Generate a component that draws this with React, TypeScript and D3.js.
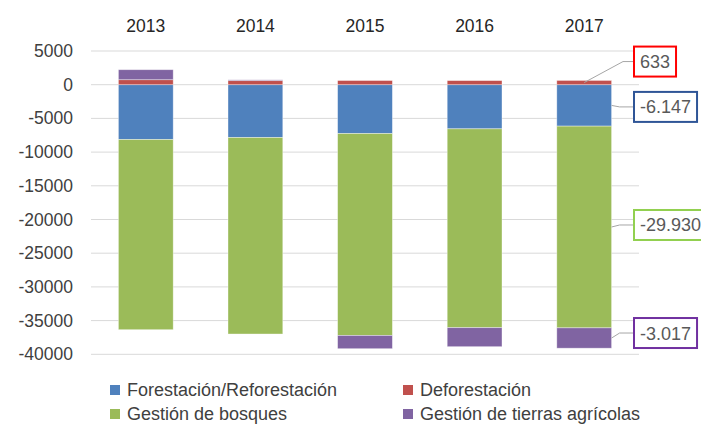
import React from 'react';
import * as d3 from 'd3';

const years = ['2013', '2014', '2015', '2016', '2017'];
const seriesNames = ['Forestación/Reforestación', 'Deforestación', 'Gestión de bosques', 'Gestión de tierras agrícolas'];
const forestacion = [-8140, -7840, -7250, -6550, -6147];
const deforestacion = [740, 600, 620, 610, 633];
const bosques = [-28210, -29150, -29950, -29500, -29930];
const tierras = [1485, 120, -1970, -2820, -3017];
const yTicks = [5000, 0, -5000, -10000, -15000, -20000, -25000, -30000, -35000, -40000];

const colors = ['#4F81BD', '#C0504D', '#9BBB59', '#8064A2'];
const calloutBorders = ['#2F5597', '#FF0000', '#92D050', '#7030A0'];
// vertical shift of each callout box relative to its segment middle
const calloutShift = [1.5, -21, -2, -5];

const width = 701;
const height = 425;
const font = 'Liberation Sans, Arial, sans-serif';

const esLocale = d3.formatLocale({ decimal: ',', thousands: '.', grouping: [3], currency: ['', '€'], minus: '-' });
const fmt = esLocale.format(',d');

function textWidth(s: string, size: number) {
	const ctx = document.createElement('canvas').getContext('2d');
	if (!ctx) return s.length * size * 0.55;
	ctx.font = `${size}px ${font}`;
	return ctx.measureText(s).width;
}

export default function App() {
	const rows = years.map((y, i) => ({
		year: y,
		s0: forestacion[i],
		s1: deforestacion[i],
		s2: bosques[i],
		s3: tierras[i],
	}));
	const keys = ['s0', 's1', 's2', 's3'];
	const stacked = d3.stack<any>().keys(keys).offset(d3.stackOffsetDiverging)(rows);

	const x = d3.scaleBand().domain(years).range([91, 639]).paddingInner(0.5).paddingOuter(0.25);
	const y = d3.scaleLinear().domain([-40000, 5000]).range([354.3, 51]);

	const last = years.length - 1;
	const barRight = (x(years[last]) ?? 0) + x.bandwidth();
	const boxX = 634;
	const labelSize = 18;

	const legendItems = [
		{ i: 0, lx: 110, ly: 390 },
		{ i: 1, lx: 403, ly: 390 },
		{ i: 2, lx: 110, ly: 414 },
		{ i: 3, lx: 403, ly: 414 },
	];

	return (
		<svg width={width} height={height} style={{ position: 'absolute', left: 0, top: 0, background: '#fff' }} fontFamily={font}>
			<g>
				{yTicks.map(t => (
					<line key={t} x1={91} x2={639} y1={y(t)} y2={y(t)} stroke="#D9D9D9" strokeWidth={1} />
				))}
				{yTicks.map(t => (
					<text key={'l' + t} x={73} y={y(t) + 6} textAnchor="end" fontSize={17.5} fill="#404040">{t}</text>
				))}
				{years.map(yr => (
					<text key={yr} x={(x(yr) ?? 0) + x.bandwidth() / 2} y={32} textAnchor="middle" fontSize={17.5} fill="#262626">{yr}</text>
				))}
			</g>
			<g>
				{stacked.map((layer, si) => (
					<g key={layer.key} fill={colors[si]} stroke="#fff" strokeOpacity={0.5} strokeWidth={0.75}>
						{layer.map((d, i) => (
							<rect
								key={i}
								x={x(years[i])}
								width={x.bandwidth()}
								y={y(Math.max(d[0], d[1]))}
								height={Math.abs(y(d[0]) - y(d[1]))}
							/>
						))}
					</g>
				))}
			</g>
			<g>
				{stacked.map((layer, si) => {
					const d = layer[last];
					const mid = y((d[0] + d[1]) / 2);
					const value = [forestacion, deforestacion, bosques, tierras][si][last];
					const label = fmt(value);
					const w = textWidth(label, labelSize) + 12;
					const cy = mid + calloutShift[si];
					const h = 30;
					const startX = si === 1 ? (x(years[last]) ?? 0) + x.bandwidth() / 2 : barRight;
					const elbowX = si === 1 ? boxX - 11 : barRight + 8;
					return (
						<g key={'c' + si}>
							<polyline points={`${startX},${mid} ${elbowX},${cy} ${boxX},${cy}`} fill="none" stroke="#A6A6A6" strokeWidth={1} />
							<rect x={boxX} y={cy - h / 2} width={w} height={h} fill="#fff" stroke={calloutBorders[si]} strokeWidth={2} />
							<text x={boxX + w / 2} y={cy + 6.5} textAnchor="middle" fontSize={labelSize} fill="#595959">{label}</text>
						</g>
					);
				})}
			</g>
			<g>
				{legendItems.map(it => (
					<g key={it.i}>
						<rect x={it.lx} y={it.ly - 5} width={10} height={10} fill={colors[it.i]} />
						<text x={it.lx + 17} y={it.ly + 6} fontSize={18} fill="#404040">{seriesNames[it.i]}</text>
					</g>
				))}
			</g>
		</svg>
	);
}
